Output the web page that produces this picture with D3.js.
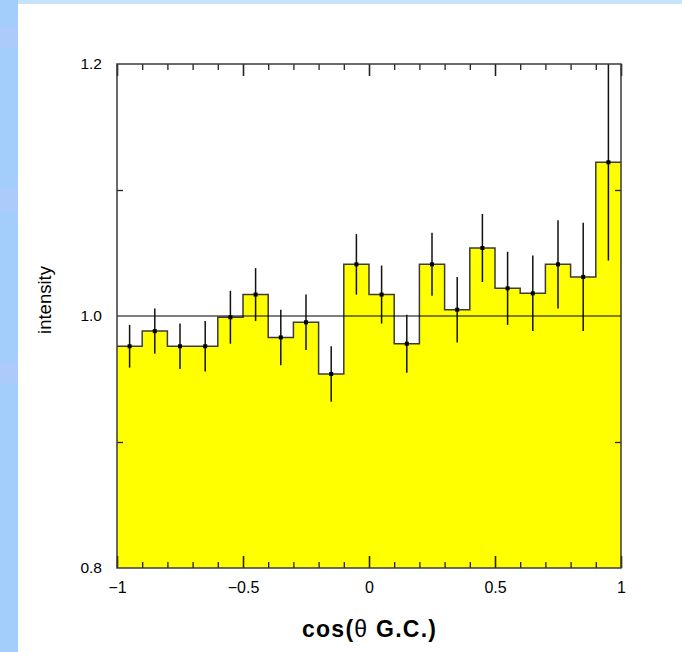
<!DOCTYPE html>
<html>
<head>
<meta charset="utf-8">
<script src="https://cdn.jsdelivr.net/npm/d3@7"></script>
<style>
  html, body { margin: 0; padding: 0; background: #fff; }
  svg { display: block; }
  text { font-family: "Liberation Sans", Arial, Helvetica, sans-serif; fill: #000; }
</style>
</head>
<body>
<svg id="chart" width="682" height="652"></svg>
<script>
// Bin centres of cos(theta G.C.), 20 bins of width 0.1
const binCenters = [-0.95, -0.85, -0.75, -0.65, -0.55, -0.45, -0.35, -0.25, -0.15, -0.05,
                     0.05,  0.15,  0.25,  0.35,  0.45,  0.55,  0.65,  0.75,  0.85,  0.95];
const binWidth = 0.1;
// Measured intensity per bin
const intensity = [0.976, 0.988, 0.976, 0.976, 0.999, 1.017, 0.983, 0.995, 0.954, 1.041,
                   1.017, 0.978, 1.041, 1.005, 1.054, 1.022, 1.018, 1.041, 1.031, 1.122];
// Statistical error per bin
const errors = [0.017, 0.018, 0.018, 0.020, 0.021, 0.021, 0.022, 0.022, 0.022, 0.024,
                0.023, 0.023, 0.025, 0.026, 0.027, 0.029, 0.030, 0.035, 0.043, 0.078];
// Axis ticks
const xMajorTicks = [-1, -0.5, 0, 0.5, 1];
const xMinorTicks = [-0.9, -0.8, -0.7, -0.6, -0.4, -0.3, -0.2, -0.1,
                      0.1, 0.2, 0.3, 0.4, 0.6, 0.7, 0.8, 0.9];
const yLabelTicks = [0.8, 1.0, 1.2];
const yMinorTicks = [0.9, 1.1];
const referenceLevel = 1.0;

const svg = d3.select("#chart");

// Slide background: light-blue strips along the left and top edges
svg.append("rect").attr("x", 0).attr("y", 0).attr("width", 682).attr("height", 4).attr("fill", "#c6e3fc");
svg.append("rect").attr("x", 0).attr("y", 0).attr("width", 18).attr("height", 652).attr("fill", "#a3cefc");
[[27, 21], [188, 24], [362, 21]].forEach(([y0, h]) => {
  svg.append("rect").attr("x", 0).attr("y", y0).attr("width", 18).attr("height", h).attr("fill", "#accbfa");
});

const x = d3.scaleLinear().domain([-1, 1]).range([117, 621]);
const y = d3.scaleLinear().domain([0.8, 1.2]).range([568, 64]);

svg.append("clipPath").attr("id", "plotClip")
  .append("rect").attr("x", x(-1)).attr("y", y(1.2))
  .attr("width", x(1) - x(-1)).attr("height", y(0.8) - y(1.2));

const plot = svg.append("g").attr("clip-path", "url(#plotClip)");

// Step points: left edge of each bin plus the right edge of the last bin
const steps = binCenters.map((c, i) => ({ x: c - binWidth / 2, v: intensity[i] }));
steps.push({ x: binCenters[binCenters.length - 1] + binWidth / 2, v: intensity[intensity.length - 1] });

const area = d3.area()
  .x(d => x(d.x)).y0(y(0.8)).y1(d => y(d.v))
  .curve(d3.curveStepAfter);
const line = d3.line()
  .x(d => x(d.x)).y(d => y(d.v))
  .curve(d3.curveStepAfter);

plot.append("path").datum(steps).attr("d", area).attr("fill", "#ffff00");

// Step outline of the histogram
plot.append("path").datum(steps).attr("d", line)
  .attr("fill", "none").attr("stroke", "#3a3a3a").attr("stroke-width", 1.5);

// Reference line at intensity 1
plot.append("line")
  .attr("x1", x(-1)).attr("x2", x(1))
  .attr("y1", y(referenceLevel)).attr("y2", y(referenceLevel))
  .attr("stroke", "#000").attr("stroke-width", 1.2);

// Error bars and markers
const pts = binCenters.map((c, i) => ({ c, v: intensity[i], e: errors[i] }));
plot.selectAll("line.err").data(pts).join("line").attr("class", "err")
  .attr("x1", d => x(d.c)).attr("x2", d => x(d.c))
  .attr("y1", d => y(d.v - d.e)).attr("y2", d => y(d.v + d.e))
  .attr("stroke", "#111").attr("stroke-width", 1.5);
plot.selectAll("rect.pt").data(pts).join("rect").attr("class", "pt")
  .attr("x", d => x(d.c) - 2).attr("y", d => y(d.v) - 2)
  .attr("width", 4).attr("height", 4).attr("fill", "#000");

// Inward ticks on all four sides
function tickGroup(axis, tx, ty, w) {
  const g = svg.append("g").attr("transform", `translate(${tx},${ty})`).call(axis);
  g.select(".domain").remove();
  g.selectAll(".tick line").attr("stroke", "#222").attr("stroke-width", w);
  g.selectAll(".tick text").remove();
  return g;
}
tickGroup(d3.axisTop(x).tickValues(xMajorTicks).tickSize(12), 0, y(0.8), 1.6);
tickGroup(d3.axisTop(x).tickValues(xMinorTicks).tickSize(6), 0, y(0.8), 1.3);
tickGroup(d3.axisBottom(x).tickValues(xMajorTicks).tickSize(12), 0, y(1.2), 1.6);
tickGroup(d3.axisBottom(x).tickValues(xMinorTicks).tickSize(6), 0, y(1.2), 1.3);
tickGroup(d3.axisRight(y).tickValues(yMinorTicks).tickSize(6), x(-1), 0, 1.3);
tickGroup(d3.axisLeft(y).tickValues(yMinorTicks).tickSize(6), x(1), 0, 1.3);

// Frame
svg.append("rect")
  .attr("x", x(-1)).attr("y", y(1.2))
  .attr("width", x(1) - x(-1)).attr("height", y(0.8) - y(1.2))
  .attr("fill", "none").attr("stroke", "#3a3a3a").attr("stroke-width", 1.5);

// Tick labels
const xLab = svg.append("g").attr("transform", `translate(0,${y(0.8)})`)
  .call(d3.axisBottom(x).tickValues(xMajorTicks).tickSize(0).tickPadding(14).tickFormat(d3.format("")));
xLab.select(".domain").remove();
xLab.attr("font-size", 16).attr("font-family", null);
xLab.selectAll("text").style("fill", "#000");

const yLab = svg.append("g").attr("transform", `translate(${x(-1)},0)`)
  .call(d3.axisLeft(y).tickValues(yLabelTicks).tickSize(0).tickPadding(15).tickFormat(d3.format(".1f")));
yLab.select(".domain").remove();
yLab.attr("font-size", 15.5).attr("font-family", null);
yLab.selectAll("text").style("fill", "#000");

// Axis titles
const xt = svg.append("text")
  .attr("x", 369).attr("y", 637)
  .attr("text-anchor", "middle")
  .attr("font-size", 23).attr("font-weight", "bold")
  .attr("textLength", 134).attr("lengthAdjust", "spacing");
xt.append("tspan").text("cos(");
xt.append("tspan").attr("font-weight", "normal").text("θ");
xt.append("tspan").text(" G.C.)");

svg.append("text")
  .attr("transform", "translate(51,300) rotate(-90)")
  .attr("text-anchor", "middle")
  .attr("font-size", 18.5)
  .text("intensity");
</script>
</body>
</html>
